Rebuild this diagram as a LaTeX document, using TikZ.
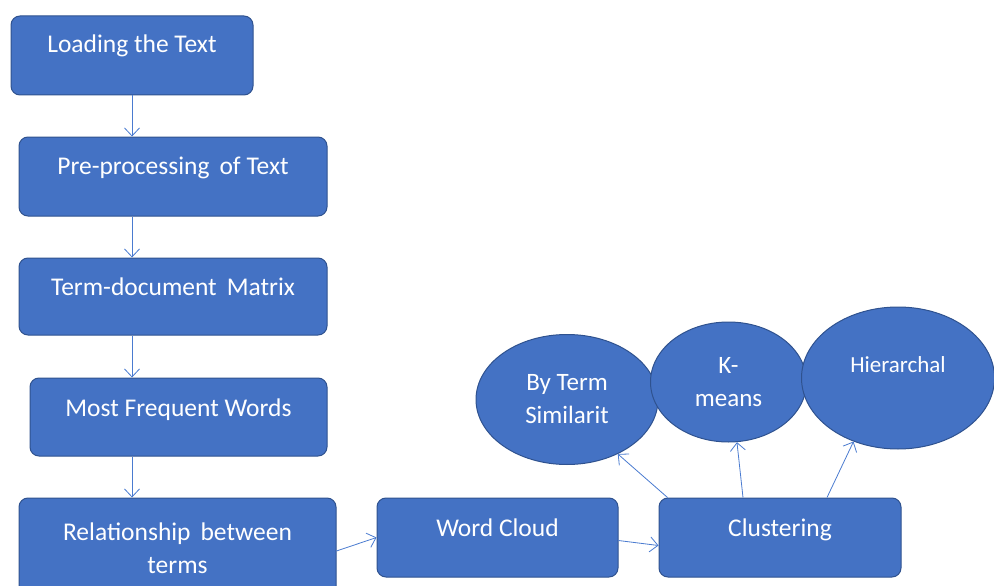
\documentclass[tikz,border=0pt]{standalone}
\usepackage{fontspec}
\setmainfont{Carlito}
\usepackage{tikz}
\usetikzlibrary{positioning, shapes, arrows.meta, calc}

\definecolor{boxfill}{HTML}{4472C4}
\definecolor{boxedge}{HTML}{2F528F}
\definecolor{arrowblue}{HTML}{4A7BD0}

\tikzset{
    flowbox/.style={draw=boxedge, line width=1pt, fill=boxfill, rounded corners=9pt,
        text=white, font=\fontsize{25.5}{33}\selectfont, inner sep=0pt,
        text height=37pt, text depth=42pt, align=center},
    bubble/.style={ellipse, draw=boxedge, line width=1pt, fill=boxfill,
        text=white, font=\fontsize{25}{33}\selectfont, inner sep=0pt, align=center},
    flowarrow/.style={-{Straight Barb[length=8pt, width=15pt]}, line width=0.8pt, color=arrowblue}
}

\begin{document}
\begin{tikzpicture}[x=1pt, y=-1pt]
            \useasboundingbox (0,0) rectangle (994,586);

            % main column
            \node (load) at (132, 55.5) [flowbox, minimum width=242pt] {Loading the Text};
            \node (prep) at (173, 176.5) [flowbox, minimum width=308pt] {Pre-processing\, of Text};
            \node (tdm) at (173, 296.5) [flowbox, minimum width=308pt, text depth=40pt] {Term-document\, Matrix};
            \node (freq) at (178.5, 417) [flowbox, minimum width=297pt, text height=38pt, text depth=40pt] {Most Frequent Words};
            \node (rel) at (177.5, 548) [flowbox, minimum width=317pt, minimum height=100pt, text height=, text depth=] {Relationship\, between\\terms};

            % bottom row
            \node (cloud) at (497.5, 537.5) [flowbox, minimum width=241pt, text height=38pt, text depth=41pt] {Word Cloud};
            \node (clust) at (780, 537.5) [flowbox, minimum width=242pt, text height=38pt, text depth=41pt] {Clustering};

            % clustering methods
            \node (sim) at (567, 399.5) [bubble, minimum width=182pt, minimum height=130pt] {By Term\\Similarit};
            \node (kmeans) at (728.5, 382) [bubble, minimum width=156pt, minimum height=120pt] {K-\\means};
            \node (hier) at (898, 378) [bubble, minimum width=193pt, minimum height=142pt, font=\fontsize{23}{33}\selectfont, text height=16pt, text depth=27pt] {Hierarchal};

            % arrows
            \draw[flowarrow] (load.south) -- (load.south |- prep.north);
            \draw[flowarrow] (load.south |- prep.south) -- (load.south |- tdm.north);
            \draw[flowarrow] (load.south |- tdm.south) -- (load.south |- freq.north);
            \draw[flowarrow] (load.south |- freq.south) -- (load.south |- rel.north);
            \draw[flowarrow] ([yshift=-3pt]rel.east) -- (cloud.west);
            \draw[flowarrow] ([yshift=-3pt]cloud.east) -- ([yshift=-8pt]clust.west);
            \draw[flowarrow] ([xshift=9pt]clust.north west) -- (sim.-47);
            \draw[flowarrow] ([xshift=-37pt]clust.north) -- (kmeans.-82);
            \draw[flowarrow] ([xshift=47pt]clust.north) -- (hier.-125);

        \end{tikzpicture}
\end{document}
